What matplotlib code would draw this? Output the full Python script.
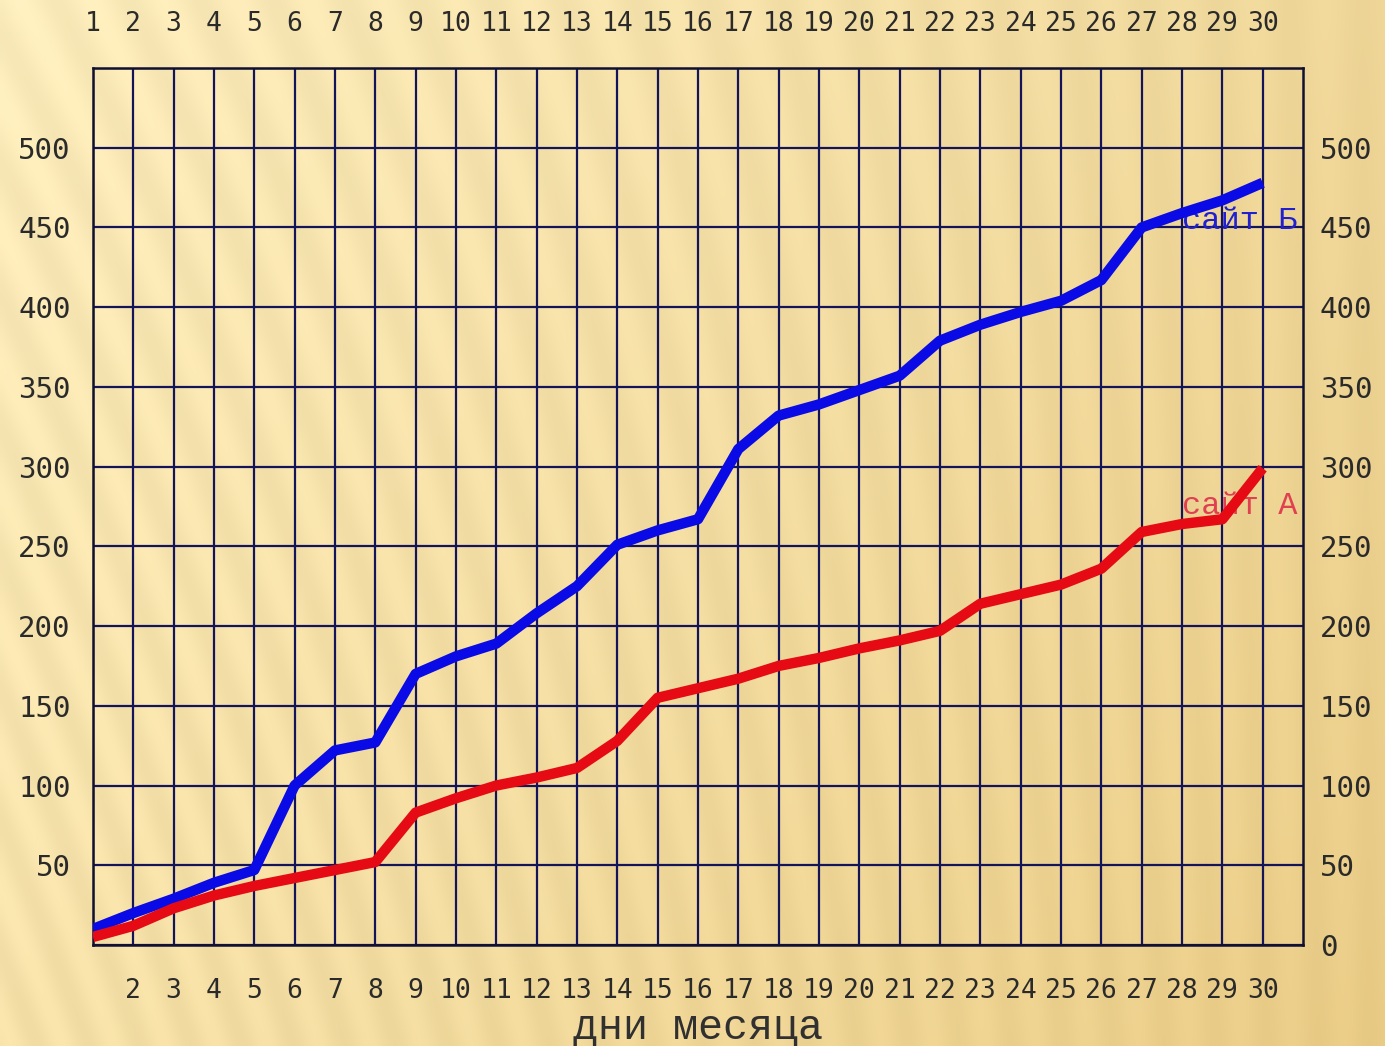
import numpy as np
import matplotlib.pyplot as plt

days = list(range(1, 31))
site_b = [10, 20, 29, 39, 47, 100, 122, 127, 170, 181, 189, 208, 225, 251, 260,
          267, 311, 332, 339, 348, 357, 379, 389, 397, 404, 417, 450, 459, 467, 478]
site_a = [5, 12, 23, 31, 37, 42, 47, 52, 83, 92, 100, 105, 111, 128, 155,
          161, 167, 175, 180, 186, 191, 197, 214, 220, 226, 236, 259, 264, 267, 299]
y_ticks = list(range(0, 501, 50))

fig = plt.figure(figsize=(13.85, 10.46), dpi=100)

# beige background with soft diagonal streaks
bg = fig.add_axes([0, 0, 1, 1], zorder=-10)
h, w = 260, 345
yy, xx = np.mgrid[0:h, 0:w] / np.array([h, w])[:, None, None]
base = np.array([0.97, 0.91, 0.72])
dark = np.array([0.90, 0.78, 0.50])
t = np.clip(xx * 0.6 + yy * 0.35, 0, 1)[..., None]
streak = 0.5 + 0.5 * np.sin((xx * 60 - yy * 25 * (1 - xx)) * 2.0)
img = base * (1 - t) + dark * t
img = img + (0.04 * streak * (1 - xx * 0.5))[..., None]
bg.imshow(np.clip(img, 0, 1), aspect='auto', extent=[0, 1, 0, 1], interpolation='bilinear')
bg.axis('off')

ax = fig.add_axes([0.0671, 0.0966, 0.8737, 0.8384])
ax.patch.set_alpha(0)
ax.set_xlim(1, 31)
ax.set_ylim(0, 550)

grid_col = '#14145a'
ax.set_xticks(days)
ax.grid(True, color=grid_col, linewidth=1.6)
for s in ax.spines.values():
    s.set_color('#101030')
    s.set_linewidth(1.8)

ax.plot(days, site_b, color='#0a0ae6', linewidth=7.5, solid_capstyle='butt', zorder=3)
ax.plot(days, site_a, color='#e60a14', linewidth=7.5, solid_capstyle='butt', zorder=3)

ax.text(28.0, 454, 'сайт Б', color='#2020d0', fontsize=23, family='Liberation Mono',
        va='center', ha='left', clip_on=True, zorder=2)
ax.text(28.0, 275, 'сайт А', color='#e04050', fontsize=23, family='Liberation Mono',
        va='center', ha='left', clip_on=True, zorder=2)

tick_font = dict(family='DejaVu Sans Mono', color='#2a2a2a')

# x labels: top has 1..30, bottom has 2..30
top = ax.secondary_xaxis('top')
top.set_xticks(days)
top.set_xticklabels([str(d) for d in days], **tick_font)
top.tick_params(length=0, pad=22, labelsize=19)
top.spines['top'].set_visible(False)
ax.tick_params(axis='x', length=0, pad=24, labelsize=19)
ax.set_xticklabels(['' if d == 1 else str(d) for d in days], **tick_font)

# y labels: left 50..500, right 0..500
ax.set_yticks(list(range(0, 551, 50)))
ax.set_yticklabels(['' if v in (0, 550) else str(v) for v in range(0, 551, 50)], **tick_font)
ax.tick_params(axis='y', length=0, pad=16, labelsize=21)
right = ax.secondary_yaxis('right')
right.set_yticks(y_ticks)
right.set_yticklabels([str(v) for v in y_ticks], **tick_font)
right.tick_params(length=0, pad=12, labelsize=21)
right.spines['right'].set_visible(False)

ax.set_xlabel('дни месяца', family='Liberation Mono', fontsize=30, color='#303030',
              labelpad=3)

fig.savefig('out.png', dpi=100)
